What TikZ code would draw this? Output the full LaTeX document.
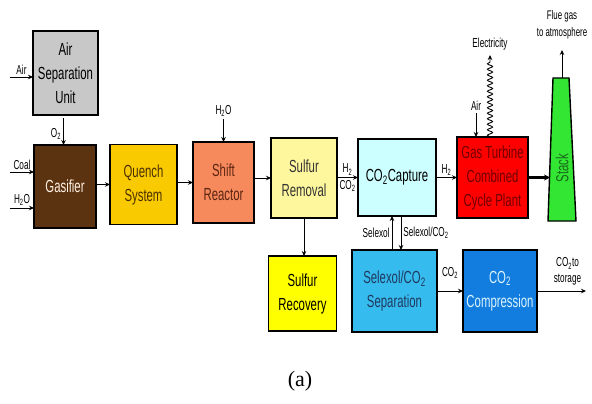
\documentclass[tikz,border=0pt]{standalone}
\usepackage{fontspec}
\setmainfont{Liberation Sans}[FakeStretch=0.63]
\newfontfamily\boxfont{Liberation Sans}[FakeStretch=0.65]
\newfontfamily\capfont{Liberation Serif}
\usepackage{tikz}
\usetikzlibrary{shapes.geometric, arrows.meta, positioning, decorations.pathmorphing}
\usepackage{xcolor}
\definecolor{asugray}{HTML}{C8C8C8}
\definecolor{gasbrown}{HTML}{5C3310}
\definecolor{quenchgold}{HTML}{FACA00}
\definecolor{quenchtext}{HTML}{4A3000}
\definecolor{shiftcoral}{HTML}{F68A5C}
\definecolor{shifttext}{HTML}{5C2412}
\definecolor{sremyellow}{HTML}{FFF79E}
\definecolor{srecyellow}{HTML}{FFFF00}
\definecolor{capturecyan}{HTML}{CCFFFF}
\definecolor{gtred}{HTML}{FF0000}
\definecolor{gttext}{HTML}{700000}
\definecolor{stackgreen}{HTML}{33E633}
\definecolor{stacktext}{HTML}{1A6A1A}
\definecolor{selblue}{HTML}{36BBEE}
\definecolor{seltext}{HTML}{1F3A5F}
\definecolor{compblue}{HTML}{127DDE}
\newcommand{\cotwo}{CO\textsubscript{2}}
\newcommand{\htwo}{H\textsubscript{2}}
\newcommand{\water}{H\textsubscript{2}O}
\newcommand{\otwo}{O\textsubscript{2}}

\begin{document}
\begin{tikzpicture}[
    x=1pt, y=1pt,
    box/.style={draw, line width=1.4pt, outer sep=0pt, align=center, inner sep=0pt, font=\boxfont\fontsize{17.5}{24}\selectfont},
    lbl/.style={font=\fontsize{13}{16}\selectfont, inner sep=2pt, align=center},
    arr/.style={-{Stealth[length=5pt, width=4.5pt]}, line width=0.9pt},
]
\useasboundingbox (0,0) rectangle (592,-404);

% Main process line
\node[box, fill=gasbrown, text=white!90!orange, minimum width=62pt, minimum height=83pt] (gas) at (65,-186.5) {Gasifier};
\node[box, fill=asugray, minimum width=65pt, minimum height=84pt, above=30pt of gas, xshift=0.5pt] (asu) {Air\\Separation\\Unit};
\node[box, fill=quenchgold, text=quenchtext, minimum width=67pt, minimum height=80pt, right=14pt of gas, yshift=2pt] (quench) {Quench\\System};
\node[box, fill=shiftcoral, text=shifttext, minimum width=61pt, minimum height=81pt, right=16pt of quench, yshift=2pt] (shift) {Shift\\Reactor};
\node[box, fill=sremyellow, text=black!80, minimum width=66pt, minimum height=80pt, right=17pt of shift, yshift=4.5pt] (srem) {Sulfur\\Removal};
\node[box, fill=capturecyan, minimum width=78pt, minimum height=77pt, right=21pt of srem, yshift=0.5pt] (capture) {\cotwo Capture};
\node[box, fill=gtred, text=gttext, minimum width=71pt, minimum height=81pt, right=21pt of capture] (gt) {Gas Turbine\\Combined\\Cycle Plant};

% Stack
\node[minimum width=28pt, minimum height=143pt, inner sep=0pt, outer sep=0pt, right=20pt of gt, yshift=28pt] (stack) {};
\draw[line width=1.4pt, fill=stackgreen] (stack.south west) -- ([xshift=5pt]stack.north west) -- ([xshift=-7pt]stack.north east) -- (stack.south east) -- cycle;
\node[rotate=90, text=stacktext, font=\boxfont\fontsize{17.5}{20}\selectfont] (stacktxt) at ([yshift=-18.5pt]stack.center) {Stack};

% Sulfur and CO2 branch
\node[box, fill=srecyellow, minimum width=68pt, minimum height=75pt, below=38pt of srem, xshift=-1.5pt] (srec) {Sulfur\\Recovery};
\node[box, fill=selblue, text=seltext, minimum width=85pt, minimum height=82pt, below=34pt of capture, xshift=-2.5pt] (selsep) {Selexol/\cotwo\\Separation};
\node[box, fill=compblue, text=cyan!15, minimum width=74pt, minimum height=82pt, right=26pt of selsep] (comp) {\cotwo\\Compression};

\foreach \a/\b in {gas/quench, quench/shift, shift/srem, capture/gt} {
    \draw[arr] (\b.west -| \a.east) -- (\b.west);
}
\draw[arr] (capture.west -| srem.east) -- node[lbl, above] {\htwo} node[lbl, below] {\cotwo} (capture.west);
\path (gt.west -| capture.east) -- node[lbl, above] {\htwo} (gt.west);
\draw[-{Stealth[length=6pt, width=6pt]}, line width=3pt] (gt.east) -- ([xshift=2pt]gt.east -| stack.west);

% Feeds
\draw[arr] ([shift={(-23pt,-4pt)}]asu.west) -- node[lbl, above] {Air} ([yshift=-4pt]asu.west);
\draw[arr] ([shift={(-24pt,14.5pt)}]gas.west) -- node[lbl, above] {Coal} ([yshift=14.5pt]gas.west);
\draw[arr] ([shift={(-24pt,-21.5pt)}]gas.west) -- node[lbl, above] {\water} ([yshift=-21.5pt]gas.west);
\draw[arr] ([shift={(-2pt,-3pt)}]asu.south) -- node[lbl, left, pos=0.6] {\otwo} ([xshift=-2pt]asu.south |- gas.north);
\draw[arr] ([yshift=23pt]shift.north) node[lbl, above] {\water} -- (shift.north);
\draw[arr] ([shift={(-16.5pt,24pt)}]gt.north) node[lbl, above] {Air} -- ([xshift=-16.5pt]gt.north);

% Outputs
\draw[arr, decorate, decoration={snake, segment length=5.5pt, amplitude=2.6pt, post length=5pt}] ([xshift=-2.5pt]gt.north) -- ([shift={(-2.5pt,82pt)}]gt.north) node[lbl, above=2pt] {Electricity};
\draw[arr] (stack.north) -- ([yshift=28pt]stack.north) node[lbl, above=8pt, font=\fontsize{12.5}{17}\selectfont] {Flue gas\\to atmosphere};
\draw[arr] (srem.south) -- (srem.south |- srec.north);
\draw[arr] (selsep.east) -- node[lbl, above=10pt] {\cotwo} (comp.west);
\draw[arr] (comp.east) -- node[lbl, above=3pt, xshift=6pt] {\cotwo to\\storage} ([xshift=49pt]comp.east);

% Selexol loop
\draw[arr] ([xshift=-5pt]capture.south |- selsep.north) -- node[lbl, left] {Selexol} ([xshift=-5pt]capture.south);
\draw[arr] ([xshift=4pt]capture.south) -- node[lbl, right] {Selexol/\cotwo} ([xshift=4pt]capture.south |- selsep.north);

\node[font=\capfont\fontsize{22}{24}\selectfont] (cap) at (300,-381) {(a)};

\end{tikzpicture}
\end{document}
